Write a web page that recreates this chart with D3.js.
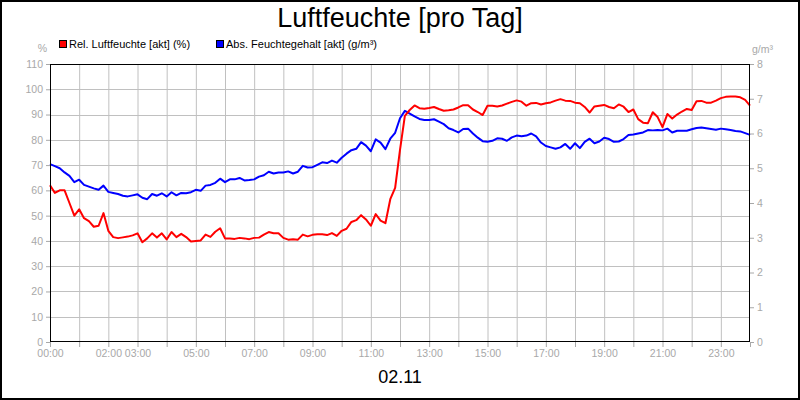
<!DOCTYPE html>
<html><head><meta charset="utf-8">
<script src="https://cdn.jsdelivr.net/npm/d3@7"></script>
<style>
html,body{margin:0;padding:0;background:#fff;}
svg{display:block;font-family:"Liberation Sans",Arial,sans-serif;}
</style></head>
<body>
<svg id="chart" width="800" height="400"></svg>
<script>
const title = "Luftfeuchte [pro Tag]";
const dateLabel = "02.11";
const seriesNames = ["Rel. Luftfeuchte [akt] (%)", "Abs. Feuchtegehalt [akt] (g/m³)"];
const leftUnit = "%";
const rightUnit = "g/m³";
const sampleMinutes = 10;
const xTickLabels = ["00:00","02:00","03:00","05:00","07:00","09:00","11:00","13:00","15:00","17:00","19:00","21:00","23:00"];
const leftTicks = [0,10,20,30,40,50,60,70,80,90,100,110];
const rightTicks = [0,1,2,3,4,5,6,7,8];

const relHum = [
62,59,60,60,55,50,52.5,49,47.8,45.6,46,51,44,41.5,41.1,41.4,41.7,42.2,43,39.5,
41,43,41.3,43,40.6,43.5,41.5,42.8,41.5,39.8,40,40.2,42.5,41.6,43.6,45,41,41,40.8,41.2,
41,40.7,41.2,41.3,42.5,43.5,43,43,41.2,40.5,40.7,40.5,42.5,41.8,42.4,42.6,42.6,42.3,43.1,42,
44,44.8,47.5,48.2,50.2,48.5,46,50.6,48,47,56.5,61,76,89.5,91.8,93.6,92.5,92.3,92.6,93,
92.2,91.5,91.7,92,92.8,93.7,93.7,92,91,89.8,93.5,93.5,93.2,93.6,94.3,95,95.6,95.1,93.5,94.5,
94.6,94,94.5,94.8,95.5,96.1,95.5,95.4,94.7,94.5,93,90.8,93.2,93.5,93.8,93,92.5,94,93.1,91,
92,88.2,86.8,86.6,90.9,89,85,90.2,88.4,90,91.2,92.2,91.8,95.3,95.4,94.7,94.7,95.5,96.5,97,
97.1,97.1,96.8,95.8,93.5
];
const absHum = [
5.12,5.06,5.0,4.88,4.78,4.6,4.67,4.52,4.47,4.42,4.38,4.5,4.32,4.29,4.26,4.21,4.19,4.22,4.25,4.15,
4.11,4.26,4.21,4.28,4.19,4.31,4.22,4.29,4.28,4.31,4.38,4.35,4.5,4.52,4.58,4.7,4.6,4.68,4.68,4.72,
4.65,4.66,4.68,4.76,4.8,4.9,4.85,4.88,4.88,4.91,4.85,4.9,5.07,5.02,5.03,5.1,5.17,5.15,5.22,5.16,
5.3,5.42,5.52,5.56,5.75,5.65,5.49,5.83,5.74,5.55,5.85,6.02,6.44,6.65,6.57,6.49,6.42,6.39,6.39,6.41,
6.34,6.27,6.15,6.1,6.03,6.13,6.14,6.0,5.88,5.78,5.76,5.79,5.86,5.85,5.79,5.89,5.94,5.92,5.94,6.0,
5.92,5.74,5.64,5.6,5.56,5.6,5.7,5.56,5.72,5.58,5.76,5.85,5.72,5.77,5.88,5.84,5.76,5.77,5.84,5.96,
5.97,6.0,6.03,6.1,6.09,6.1,6.09,6.14,6.03,6.08,6.08,6.08,6.12,6.16,6.17,6.15,6.13,6.11,6.14,6.12,
6.1,6.07,6.06,6.01,5.96
];

const svg = d3.select("#chart");
const L = 50, R = 750, T = 64, B = 342;
const x = d3.scaleLinear().domain([0, 1440]).range([L, R]);
const yL = d3.scaleLinear().domain([0, 110]).range([B, T]);
const yR = d3.scaleLinear().domain([0, 8]).range([B, T]);
const gridColor = "#c0c0c0";
const labelColor = "#a8a8a8";

svg.append("rect").attr("x",0).attr("y",0).attr("width",800).attr("height",400).attr("fill","#fff");

// grid
const hourTicks = d3.range(0, 1441, 60);
svg.append("g").selectAll("line").data(hourTicks.slice(1, -1)).join("line")
  .attr("x1", d => x(d) + 0.5).attr("x2", d => x(d) + 0.5)
  .attr("y1", T).attr("y2", B).attr("stroke", gridColor).attr("stroke-width", 1);
svg.append("g").selectAll("line").data(leftTicks.slice(1, -1)).join("line")
  .attr("x1", L).attr("x2", R)
  .attr("y1", d => Math.round(yL(d)) + 0.5).attr("y2", d => Math.round(yL(d)) + 0.5)
  .attr("stroke", gridColor).attr("stroke-width", 1);

// axes
const xAxis = d3.axisBottom(x).tickValues(hourTicks).tickSize(5).tickPadding(3)
  .tickFormat(d => { const s = d3.timeFormat("%H:%M")(new Date(2000,0,1,0,d)); return xTickLabels.includes(s) && d < 1440 ? s : ""; });
const gx = svg.append("g").attr("transform", `translate(0,${B})`).call(xAxis);
const yAxisL = d3.axisLeft(yL).tickValues(leftTicks).tickSize(4).tickPadding(3);
const gl = svg.append("g").attr("transform", `translate(${L},0)`).call(yAxisL);
const yAxisR = d3.axisRight(yR).tickValues(rightTicks).tickSize(4).tickPadding(3);
const gr = svg.append("g").attr("transform", `translate(${R},0)`).call(yAxisR);
[gx, gl, gr].forEach(g => {
  g.select(".domain").remove();
  g.selectAll(".tick line").attr("stroke", labelColor);
  g.selectAll(".tick text").attr("fill", labelColor).style("font-size", "10.5px")
    .style("font-family", '"Liberation Sans",Arial,sans-serif');
});

// lines
const lineAbs = d3.line().x((d, i) => x(i * sampleMinutes)).y(d => yR(d));
const lineRel = d3.line().x((d, i) => x(i * sampleMinutes)).y(d => yL(d));
svg.append("path").datum(absHum).attr("d", lineAbs).attr("fill", "none")
  .attr("stroke", "#0000ff").attr("stroke-width", 2).attr("stroke-linejoin", "round");
svg.append("path").datum(relHum).attr("d", lineRel).attr("fill", "none")
  .attr("stroke", "#ff0000").attr("stroke-width", 2).attr("stroke-linejoin", "round");

// frame
svg.append("rect").attr("x", L + 0.5).attr("y", T + 0.5).attr("width", R - L - 1).attr("height", B - T - 1)
  .attr("fill", "none").attr("stroke", "#000").attr("stroke-width", 1);

// title
svg.append("text").attr("x", 400).attr("y", 27).attr("text-anchor", "middle")
  .style("font-size", "27px").attr("fill", "#000").text(title);

// legend
const legColors = ["#ff0000", "#0000ff"];
const legX = [59, 216];
seriesNames.forEach((n, i) => {
  svg.append("rect").attr("x", legX[i] + 0.5).attr("y", 40.5).attr("width", 7).attr("height", 7)
    .attr("fill", legColors[i]).attr("stroke", "#000").attr("stroke-width", 1);
  svg.append("text").attr("x", legX[i] + 10).attr("y", 48).style("font-size", "11px")
    .attr("fill", "#000").text(n);
});

// unit labels
svg.append("text").attr("x", 47).attr("y", 52).attr("text-anchor", "end")
  .style("font-size", "10.5px").attr("fill", labelColor).text(leftUnit);
svg.append("text").attr("x", 752).attr("y", 53).attr("text-anchor", "start")
  .style("font-size", "10.5px").attr("fill", labelColor).text(rightUnit);

// date
svg.append("text").attr("x", 400).attr("y", 383).attr("text-anchor", "middle")
  .style("font-size", "18px").attr("fill", "#000").text(dateLabel);

// outer border
svg.append("rect").attr("x", 1).attr("y", 1).attr("width", 798).attr("height", 398)
  .attr("fill", "none").attr("stroke", "#000").attr("stroke-width", 2);
</script>
</body></html>
